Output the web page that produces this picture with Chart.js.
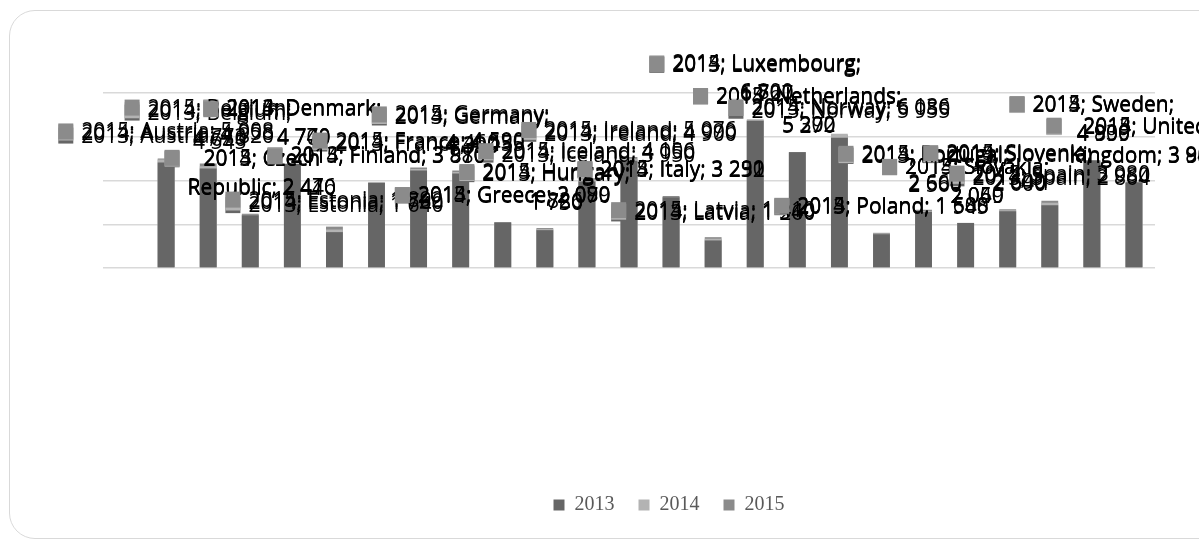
<!DOCTYPE html>
<html>
<head>
<meta charset="utf-8">
<script src="https://cdn.jsdelivr.net/npm/chart.js@4.4.0/dist/chart.umd.min.js"></script>
<style>
body{margin:0;background:#fff;overflow:hidden}
#wrap{position:relative;width:1199px;height:544px}
#marco{position:absolute;left:9px;top:10px;width:1215px;height:527px;border:1.5px solid #d9d9d9;border-radius:26px;pointer-events:none}
</style>
</head>
<body>
<div id="wrap">
  <canvas id="grafico" width="1199" height="544"></canvas>
  <div id="marco"></div>
</div>
<script>
// datos (primera categoria vacia, como en el original)
const paises=['','Austria','Belgium','Czech Republic','Denmark','Estonia','Finland','France','Germany','Greece','Hungary','Iceland','Ireland','Italy','Latvia','Luxembourg','Netherlands','Norway','Poland','Portugal','Slovakia','Slovenia','Spain','Sweden','United Kingdom']
const anios=['2013','2014','2015']
const datos2013=[null,4820,4545,2410,4770,1640,3910,4455,4320,2080,1730,3950,4900,3232,1260,6727,5290,5955,1545,2560,2060,2600,2864,4909,3900]
const datos2014=[null,4958,4650,2440,4740,1760,3880,4530,4390,2070,1780,4050,4990,3251,1340,6800,5270,6136,1580,2600,2040,2640,2980,4890,3880]
const datos2015=[null,5008,4773,2476,4700,1892,3870,4590,4460,2099,1826,4106,5076,3290,1410,6760,5302,6080,1608,2660,2059,2690,3080,4930,3945]
const colores=['#666666','#b3b3b3','#8b8b8b']

const miles=(v)=>String(v).replace(/\B(?=(\d{3})+(?!\d))/g,' ')

// corta el texto de la etiqueta en lineas
const partir=(ctx,palabras,maxW)=>{
    const lineas=[]
    let actual=''
    palabras.forEach(p=>{
        const prueba=actual==''?p:actual+' '+p
        if(actual!='' && ctx.measureText(prueba).width>maxW){
            lineas.push(actual)
            actual=p
        }else{
            actual=prueba
        }
    })
    lineas.push(actual)
    return lineas
}

const etiquetas={
    id:'etiquetas',
    afterDatasetsDraw(chart){
        const ctx=chart.ctx
        ctx.save()
        ctx.font='21px "Open Sans"'
        ctx.textBaseline='middle'
        ctx.textAlign='center'
        const lh=29
        chart.data.datasets.forEach((ds,i)=>{
            const meta=chart.getDatasetMeta(i)
            meta.data.forEach((bar,j)=>{
                const v=ds.data[j]
                if(v==null) return
                const nombre=paises[j].split(' ')
                nombre[nombre.length-1]+=';'
                const lineas=partir(ctx,[anios[i]+';',...nombre,miles(v)],200)
                const textW=Math.max(...lineas.map(l=>ctx.measureText(l).width))
                const bloqueW=15+8+textW
                const izq=bar.x-bloqueW/2
                const yUltima=bar.y-26
                const yPrimera=yUltima-(lineas.length-1)*lh
                // clave de leyenda
                ctx.fillStyle=ds.backgroundColor
                ctx.fillRect(izq,yPrimera-9,15,16)
                ctx.fillStyle='#000'
                lineas.forEach((l,k)=>{
                    ctx.fillText(l,izq+23+textW/2,yPrimera+k*lh)
                })
            })
        })
        ctx.restore()
    }
}

// la leyenda esta algo corrida a la derecha en el original
const moverLeyenda={
    id:'moverLeyenda',
    afterLayout(chart){
        chart.legend.left+=40
        chart.legend.right+=40
    }
}

var ctx=document.getElementById('grafico').getContext('2d')
var chart=new Chart(ctx,{
    type:'bar',
    data:{
        labels:paises,
        datasets:[
            {label:'2013',data:datos2013,backgroundColor:colores[0]},
            {label:'2014',data:datos2014,backgroundColor:colores[1]},
            {label:'2015',data:datos2015,backgroundColor:colores[2]}
        ]
    },
    options:{
        responsive:false,
        animation:false,
        devicePixelRatio:1,
        layout:{padding:{top:93,left:103,right:44,bottom:19}},
        datasets:{bar:{grouped:false,categoryPercentage:1,barPercentage:0.4}},
        scales:{
            x:{
                grid:{display:false},
                border:{display:false},
                ticks:{display:false},
                afterFit:(s)=>{s.height=203}
            },
            y:{
                min:0,max:8000,
                ticks:{display:false,stepSize:2000},
                grid:{color:'#d9d9d9',lineWidth:1.5,drawTicks:false},
                border:{display:false},
                afterFit:(s)=>{s.width=0}
            }
        },
        plugins:{
            legend:{
                position:'bottom',
                labels:{
                    font:{family:'Liberation Serif',size:20},
                    color:'#595959',
                    boxWidth:11,
                    boxHeight:11,
                    padding:24
                }
            },
            tooltip:{enabled:false}
        }
    },
    plugins:[etiquetas,moverLeyenda]
})
</script>
</body>
</html>
